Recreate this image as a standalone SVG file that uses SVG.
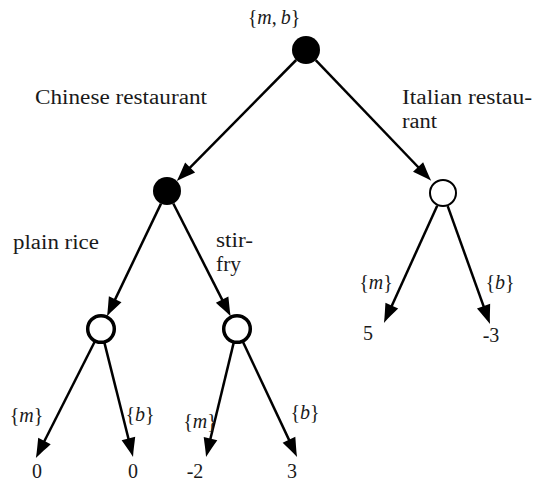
<svg xmlns="http://www.w3.org/2000/svg" width="533" height="482" viewBox="0 0 533 482">
<style>
text{font-family:"Liberation Serif","Times New Roman",serif;font-size:20px;fill:#1a1a1a}
.c{text-anchor:middle}
.i{font-style:italic}
.edge{stroke:#000;stroke-width:2.5;fill:none;marker-end:url(#ah)}
.dec{fill:#000}
.chance{fill:#fff;stroke:#000;stroke-width:3.5}
.chance2{fill:#fff;stroke:#000;stroke-width:2}
</style>
<defs>
<marker id="ah" markerUnits="userSpaceOnUse" orient="auto" refX="9" refY="0" markerWidth="22" markerHeight="16" overflow="visible">
<path d="M19,0 C12.5,-2 5.5,-5 0,-7 L0,7 C5.5,5 12.5,2 19,0 Z" fill="#000"/>
</marker>
</defs>
<rect width="533" height="482" fill="#fff"/>
<g id="connectors">
<line class="edge" x1="296.2" y1="60" x2="183.8" y2="173.9"/>
<line class="edge" x1="315.7" y1="60.1" x2="424.3" y2="173.5"/>
<line class="edge" x1="161" y1="203.6" x2="111.3" y2="307.4"/>
<line class="edge" x1="173.3" y1="203.5" x2="226.2" y2="307.6"/>
<line class="edge" x1="94.8" y1="341.5" x2="40.4" y2="449"/>
<line class="edge" x1="104.4" y1="342.6" x2="130.6" y2="447.3"/>
<line class="edge" x1="233.7" y1="342.6" x2="208.4" y2="447.3"/>
<line class="edge" x1="242.9" y1="341.7" x2="292.8" y2="447.9"/>
<line class="edge" x1="437.2" y1="205.7" x2="388.1" y2="313.9"/>
<line class="edge" x1="447.7" y1="206.2" x2="486.6" y2="314.6"/>
</g>
<g id="root"><circle class="dec" cx="306" cy="50" r="14"/><text class="c" x="274" y="24">{<tspan class="i">m</tspan>,<tspan class="i" dx="4">b</tspan>}</text></g>
<g id="chinese"><circle class="dec" cx="167" cy="191" r="14"/></g>
<g id="italian"><circle class="chance2" cx="443" cy="193" r="13"/></g>
<g id="plainrice"><circle class="chance" cx="101" cy="329" r="13.3"/></g>
<g id="stirfry"><circle class="chance" cx="237" cy="329" r="13.3"/></g>
<g id="labels">
<text x="35" y="104" textLength="172" lengthAdjust="spacingAndGlyphs">Chinese restaurant</text>
<text x="402" y="104" textLength="130" lengthAdjust="spacingAndGlyphs">Italian restau-</text>
<text x="402" y="128" textLength="35" lengthAdjust="spacingAndGlyphs">rant</text>
<text x="13" y="249" textLength="86" lengthAdjust="spacingAndGlyphs">plain rice</text>
<text x="216" y="247" textLength="37" lengthAdjust="spacingAndGlyphs">stir-</text>
<text x="216" y="271" textLength="25" lengthAdjust="spacingAndGlyphs">fry</text>
<text class="c" x="376" y="289">{<tspan class="i">m</tspan>}</text>
<text class="c" x="500" y="289">{<tspan class="i">b</tspan>}</text>
<text class="c" x="26.5" y="422">{<tspan class="i">m</tspan>}</text>
<text class="c" x="140" y="421">{<tspan class="i">b</tspan>}</text>
<text class="c" x="200" y="428">{<tspan class="i">m</tspan>}</text>
<text class="c" x="305" y="419">{<tspan class="i">b</tspan>}</text>
</g>
<g id="leaves">
<text class="c" x="37" y="478">0</text>
<text class="c" x="133" y="478">0</text>
<text class="c" x="195" y="478">-2</text>
<text class="c" x="292" y="478">3</text>
<text class="c" x="368" y="340">5</text>
<text class="c" x="491" y="342">-3</text>
</g>
</svg>
